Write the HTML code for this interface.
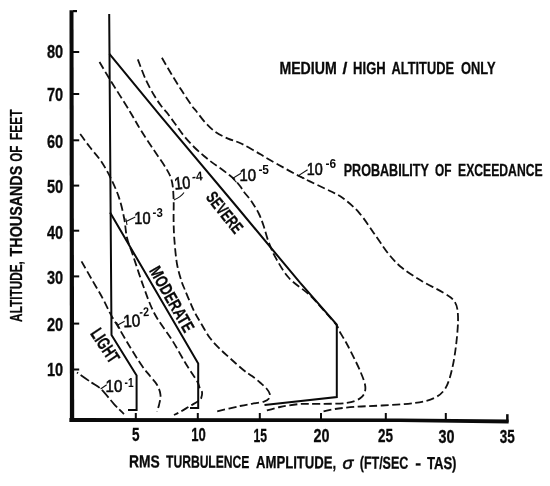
<!DOCTYPE html>
<html lang="en"><head><meta charset="utf-8"><title>Turbulence amplitude chart</title>
<style>html,body{margin:0;padding:0;background:#fff}svg{display:block}text{font-family:"Liberation Sans", "DejaVu Sans", sans-serif;fill:#0a0a0a}.b{font-weight:700;stroke:#0a0a0a;stroke-width:.3}.e{font-weight:700}.m{stroke:#0a0a0a;stroke-width:.6}.s{stroke:#0a0a0a;fill:none;stroke-width:2;stroke-linejoin:miter}.d{stroke:#111;fill:none;stroke-width:1.8}.l{stroke:#111;fill:none;stroke-width:1.1}</style></head><body>
<svg width="550" height="486" viewBox="0 0 550 486">
<rect width="550" height="486" fill="#fff"/>
<g fill="#0a0a0a">
<path d="M69.5 10.3H73.5L74.2 422H69.9Z"/>
<path d="M69.4 418.1L400 418.4L508.6 419.4V423.6L400 422.1L69.4 422Z"/>
<rect x="73" y="10" width="4" height="2.2"/>
<rect x="73" y="51.0" width="6.2" height="2"/>
<rect x="73" y="93.0" width="6.2" height="2"/>
<rect x="73" y="139.3" width="6.2" height="2"/>
<rect x="73" y="184.6" width="6.2" height="2"/>
<rect x="73" y="229.7" width="6.2" height="2"/>
<rect x="73" y="275.4" width="6.2" height="2"/>
<rect x="73" y="322.6" width="6.2" height="2"/>
<rect x="73" y="368.5" width="6.2" height="2"/>
<rect x="134.8" y="413" width="2" height="6"/>
<rect x="196.8" y="413" width="2" height="6"/>
<rect x="258.8" y="413" width="2" height="6"/>
<rect x="320.0" y="413" width="2" height="6"/>
<rect x="384.8" y="413" width="2" height="6"/>
<rect x="444.8" y="413" width="2" height="6"/>
<rect x="506.1" y="414.2" width="2.5" height="8"/>
</g>
<path class="d" stroke-dasharray="1.5 3 10 3 10 3 10 3 10 3 10 3 1.5 3" d="M77.0 372.5C79.3 374.1 86.9 379.4 90.9 382.2C94.9 384.9 97.2 385.4 101.0 389.0C104.8 392.6 110.0 399.6 113.8 403.8C117.6 408.0 122.3 412.3 124.0 414.0"/>
<path class="d" stroke-dasharray="8 3.5" d="M81.5 261.4C83.3 264.5 88.6 273.9 92.2 280.1C95.8 286.4 99.9 293.1 103.0 298.9C106.1 304.7 108.3 310.0 111.0 314.9C113.7 319.8 115.8 322.9 119.0 328.3C122.2 333.7 126.2 340.8 130.0 347.0C133.8 353.2 138.5 360.8 141.8 365.6C145.1 370.4 147.5 372.8 150.0 376.0C152.5 379.2 155.2 381.5 157.0 384.7C158.8 387.9 160.2 391.6 160.5 395.0C160.8 398.4 159.6 402.3 159.0 405.0C158.4 407.7 157.3 410.3 157.0 411.4"/>
<path class="d" stroke-dasharray="8 3.5" d="M80.2 134.0C81.8 136.1 86.2 142.5 89.6 146.8C92.9 151.2 96.8 155.0 100.3 160.1C103.8 165.2 107.3 171.2 110.4 177.5C113.5 183.8 116.7 190.7 119.0 197.6C121.3 204.5 123.0 212.3 124.3 219.0C125.6 225.7 125.5 231.6 127.0 237.7C128.4 243.8 130.3 247.3 133.0 255.4C135.7 263.4 139.7 276.2 143.3 286.0C146.9 295.8 149.9 305.0 154.7 314.0C159.5 323.0 166.8 331.7 172.0 340.0C177.2 348.3 181.8 357.2 186.0 364.0C190.2 370.8 194.7 377.1 197.0 381.0C199.3 384.9 198.8 385.7 199.6 387.5C200.4 389.3 201.7 390.5 202.0 392.0C202.3 393.5 202.0 395.1 201.6 396.5C201.2 397.9 201.4 398.7 199.5 400.3C197.6 401.9 193.2 404.1 190.0 406.0C186.8 407.9 182.7 410.5 180.0 412.0C177.3 413.5 175.0 414.5 174.0 415.0"/>
<path class="d" stroke-dasharray="8 3.5" d="M99.5 62.0C101.1 64.7 103.9 69.7 109.0 78.0C114.1 86.3 124.7 103.0 130.0 111.7C135.3 120.4 136.8 123.7 140.7 130.0C144.6 136.3 149.3 143.1 153.5 149.5C157.7 155.9 162.9 162.9 166.0 168.2C169.1 173.4 170.5 175.9 171.8 181.0C173.1 186.1 173.3 192.2 173.6 198.7C173.9 205.2 173.5 213.1 173.6 220.0C173.7 226.9 173.8 232.7 174.4 240.0C175.0 247.3 175.8 257.2 177.0 264.0C178.2 270.8 180.1 276.6 181.4 280.9C182.7 285.2 183.6 286.5 185.0 290.0C186.4 293.5 188.3 298.2 190.0 302.0C191.7 305.8 193.0 309.2 195.0 313.0C197.0 316.8 199.5 320.8 202.0 325.0C204.5 329.2 207.0 334.0 210.0 338.0C213.0 342.0 216.3 345.3 220.0 349.0C223.7 352.7 228.0 356.4 232.0 360.0C236.0 363.6 240.7 367.8 244.0 370.5C247.3 373.2 249.3 374.0 252.0 376.0C254.7 378.0 257.6 380.4 260.0 382.5C262.4 384.6 264.9 386.6 266.5 388.5C268.1 390.4 269.4 392.3 269.8 394.0C270.2 395.7 270.0 397.2 269.0 398.5C268.0 399.8 266.8 400.7 264.0 401.6C261.2 402.5 256.0 403.1 252.0 403.8C248.0 404.5 246.0 404.7 240.0 406.0C234.0 407.3 220.0 410.7 216.0 411.6"/>
<path class="d" stroke-dasharray="8 3.5" d="M137.8 59.3C139.1 62.5 142.6 72.6 145.4 78.8C148.2 85.0 151.9 91.6 154.7 96.3C157.5 101.0 159.8 104.0 162.0 107.0C164.2 110.0 165.7 111.0 168.0 114.0C170.3 117.0 173.3 121.3 176.0 125.0C178.7 128.7 181.0 132.3 184.0 136.0C187.0 139.7 190.7 143.7 194.0 147.0C197.3 150.3 201.0 153.4 204.0 156.0C207.0 158.6 209.3 160.4 212.0 162.4C214.7 164.4 217.3 166.1 220.0 168.0C222.7 169.9 225.7 172.2 228.0 174.0C230.3 175.8 232.0 177.0 234.0 179.0C236.0 181.0 238.3 183.8 240.0 186.0C241.7 188.2 242.5 190.0 244.0 192.0C245.5 194.0 247.4 195.9 249.0 198.0C250.6 200.1 251.8 201.8 253.5 204.5C255.2 207.2 257.3 210.4 259.0 214.0C260.7 217.6 262.0 221.1 263.6 225.8C265.2 230.5 266.6 236.8 268.7 242.3C270.8 247.8 272.9 252.9 276.3 258.9C279.7 264.8 283.5 272.0 289.0 278.0C294.5 284.0 303.4 289.2 309.4 294.8C315.4 300.4 320.5 306.8 325.0 311.8C329.5 316.8 334.2 322.1 336.5 325.0C338.8 327.9 337.4 327.4 338.5 329.5C339.6 331.6 341.5 334.7 343.2 337.6C344.9 340.5 345.6 341.3 348.5 347.0C351.4 352.7 357.7 365.0 360.5 371.8C363.3 378.6 365.4 383.6 365.4 388.0C365.4 392.4 363.8 395.5 360.5 398.0C357.2 400.5 352.6 402.0 345.8 403.0C339.0 404.0 327.2 403.7 319.6 403.9C312.0 404.1 306.6 403.5 300.0 404.0C293.4 404.5 285.8 405.8 280.0 407.0C274.2 408.2 267.5 410.3 265.0 411.0"/>
<path class="d" stroke-dasharray="8 3.5" d="M161.9 57.8C163.4 60.4 167.9 68.3 171.2 73.7C174.4 79.1 178.0 84.8 181.4 90.1C184.8 95.4 189.3 102.1 191.7 105.6C194.1 109.0 193.7 107.9 196.0 110.8C198.3 113.7 202.2 119.3 205.5 122.8C208.8 126.3 211.8 129.4 215.5 132.0C219.2 134.6 223.9 136.8 228.0 138.6C232.1 140.4 235.7 141.0 240.0 143.0C244.3 145.0 249.0 147.7 254.0 150.5C259.0 153.3 262.4 155.7 270.0 160.0C277.6 164.3 289.4 171.0 299.4 176.2C309.4 181.4 322.8 187.4 330.0 191.0C337.2 194.6 337.9 194.4 342.8 198.0C347.7 201.6 353.7 206.5 359.2 212.8C364.7 219.1 370.8 228.9 375.7 235.8C380.6 242.7 384.4 249.0 388.8 254.3C393.2 259.6 396.5 263.4 402.0 267.8C407.5 272.2 414.9 276.9 421.7 281.0C428.5 285.1 437.5 289.1 443.0 292.5C448.5 295.9 452.1 297.7 454.6 301.6C457.1 305.5 457.7 309.2 458.0 316.0C458.3 322.8 457.4 333.6 456.4 342.4C455.4 351.1 454.0 360.9 452.2 368.5C450.4 376.1 448.6 383.1 445.6 388.0C442.6 392.9 439.4 395.5 434.2 398.0C429.0 400.5 423.2 401.8 414.5 403.0C405.8 404.2 391.6 404.9 381.8 405.5C372.0 406.1 363.4 406.2 355.6 406.8C347.8 407.4 340.9 408.1 335.0 409.0C329.1 409.9 322.9 411.5 320.5 412.0"/>
<path class="s" d="M109.2 14L111.5 335L136.6 375.5V410H128"/>
<path class="s" d="M109.4 53.8L160 115.3L237 207L300 282.7L336.8 324.7V397L264.5 405"/>
<path class="s" d="M110.1 212.5L198.2 363.6V408H190"/>
<text x="47.0" y="58.0" font-size="18.0" class="b" textLength="16.2" lengthAdjust="spacingAndGlyphs">80</text>
<text x="47.0" y="100.5" font-size="18.0" class="b" textLength="16.2" lengthAdjust="spacingAndGlyphs">70</text>
<text x="47.0" y="147.6" font-size="18.0" class="b" textLength="16.2" lengthAdjust="spacingAndGlyphs">60</text>
<text x="47.0" y="193.1" font-size="18.0" class="b" textLength="16.2" lengthAdjust="spacingAndGlyphs">50</text>
<text x="47.0" y="238.7" font-size="18.0" class="b" textLength="16.2" lengthAdjust="spacingAndGlyphs">40</text>
<text x="47.0" y="283.8" font-size="18.0" class="b" textLength="16.2" lengthAdjust="spacingAndGlyphs">30</text>
<text x="47.0" y="330.7" font-size="18.0" class="b" textLength="16.2" lengthAdjust="spacingAndGlyphs">20</text>
<text x="47.0" y="376.0" font-size="18.0" class="b" textLength="16.2" lengthAdjust="spacingAndGlyphs">10</text>
<text x="132.0" y="441.0" font-size="18.0" class="b" textLength="7.5" lengthAdjust="spacingAndGlyphs">5</text>
<text x="191.3" y="441.3" font-size="18.0" class="b" textLength="14.5" lengthAdjust="spacingAndGlyphs">10</text>
<text x="253.5" y="441.7" font-size="18.0" class="b" textLength="13.5" lengthAdjust="spacingAndGlyphs">15</text>
<text x="313.5" y="442.0" font-size="18.0" class="b" textLength="16.0" lengthAdjust="spacingAndGlyphs">20</text>
<text x="378.0" y="442.4" font-size="18.0" class="b" textLength="15.0" lengthAdjust="spacingAndGlyphs">25</text>
<text x="438.5" y="442.7" font-size="18.0" class="b" textLength="16.0" lengthAdjust="spacingAndGlyphs">30</text>
<text x="499.8" y="443.1" font-size="18.0" class="b" textLength="15.0" lengthAdjust="spacingAndGlyphs">35</text>
<text x="279.4" y="74.0" font-size="17.4" class="b" textLength="57.3" lengthAdjust="spacingAndGlyphs">MEDIUM</text><text x="342.6" y="74.0" font-size="17.4" class="b">/</text><text x="353.1" y="74.0" font-size="17.4" class="b" textLength="32.6" lengthAdjust="spacingAndGlyphs">HIGH</text><text x="391.5" y="74.0" font-size="17.4" class="b" textLength="62.5" lengthAdjust="spacingAndGlyphs">ALTITUDE</text><text x="460.9" y="74.0" font-size="17.4" class="b" textLength="34.6" lengthAdjust="spacingAndGlyphs">ONLY</text>
<text x="343.7" y="175.8" font-size="17.4" class="b" textLength="85.2" lengthAdjust="spacingAndGlyphs">PROBABILITY</text><text x="435.1" y="175.8" font-size="17.4" class="b" textLength="16.5" lengthAdjust="spacingAndGlyphs">OF</text><text x="458.1" y="175.8" font-size="17.4" class="b" textLength="84.5" lengthAdjust="spacingAndGlyphs">EXCEEDANCE</text>
<g transform="rotate(0.32 130 467.3)">
<text x="129.1" y="467.3" font-size="17.4" class="b" textLength="30.6" lengthAdjust="spacingAndGlyphs">RMS</text><text x="166.1" y="467.3" font-size="17.4" class="b" textLength="83.2" lengthAdjust="spacingAndGlyphs">TURBULENCE</text><text x="256.1" y="467.3" font-size="17.4" class="b" textLength="80.0" lengthAdjust="spacingAndGlyphs">AMPLITUDE,</text><text x="359.8" y="467.3" font-size="17.4" class="b" textLength="48.4" lengthAdjust="spacingAndGlyphs">(FT/SEC</text><text x="415.2" y="467.3" font-size="17.4" class="b">-</text><text x="426.9" y="467.3" font-size="17.4" class="b" textLength="29.6" lengthAdjust="spacingAndGlyphs">TAS)</text>
<text x="342.6" y="467.6" font-size="17" font-style="italic" font-family='"Liberation Serif","DejaVu Serif",serif' class="m" textLength="10.8" lengthAdjust="spacingAndGlyphs">σ</text></g>
<g transform="translate(22.3 0) rotate(-90)"><text x="-321.9" y="0.0" font-size="17.4" class="b" textLength="60.8" lengthAdjust="spacingAndGlyphs">ALTITUDE,</text><text x="-256.4" y="0.0" font-size="17.4" class="b" textLength="90.6" lengthAdjust="spacingAndGlyphs">THOUSANDS</text><text x="-161.8" y="0.0" font-size="17.4" class="b" textLength="16.2" lengthAdjust="spacingAndGlyphs">OF</text><text x="-139.9" y="0.0" font-size="17.4" class="b" textLength="30.4" lengthAdjust="spacingAndGlyphs">FEET</text></g>
<g transform="translate(205.2 197.6) rotate(51.5)"><text x="0.0" y="0.0" font-size="17.4" class="b" textLength="47.5" lengthAdjust="spacingAndGlyphs">SEVERE</text></g>
<g transform="translate(148.8 270.6) rotate(60.4)"><text x="0.0" y="0.0" font-size="17.4" class="b" textLength="72.5" lengthAdjust="spacingAndGlyphs">MODERATE</text></g>
<g transform="translate(89.8 333.6) rotate(56.5)"><text x="0.0" y="0.0" font-size="18.2" class="b" textLength="37.0" lengthAdjust="spacingAndGlyphs">LIGHT</text></g>
<g><text x="306.7" y="175.4" font-size="17.4" class="m" textLength="16.0" lengthAdjust="spacingAndGlyphs">10</text><text x="325.6" y="167.6" font-size="12.8" class="e" textLength="10.6" lengthAdjust="spacingAndGlyphs">-6</text></g>
<g><text x="239.5" y="180.8" font-size="17.4" class="m" textLength="16.6" lengthAdjust="spacingAndGlyphs">10</text><text x="258.4" y="173.6" font-size="12.8" class="e" textLength="10.6" lengthAdjust="spacingAndGlyphs">-5</text></g>
<g transform="rotate(-5 176.0 189.5)"><text x="174.7" y="189.5" font-size="17.4" class="m" textLength="16.2" lengthAdjust="spacingAndGlyphs">10</text><text x="192.9" y="182.5" font-size="12.8" class="e" textLength="10.7" lengthAdjust="spacingAndGlyphs">-4</text></g>
<g><text x="134.3" y="223.6" font-size="17.4" class="m" textLength="16.2" lengthAdjust="spacingAndGlyphs">10</text><text x="152.6" y="216.5" font-size="12.8" class="e" textLength="10.2" lengthAdjust="spacingAndGlyphs">-3</text></g>
<g transform="rotate(-2.5 124.8 327.2)"><text x="123.5" y="327.2" font-size="17.4" class="m" textLength="17.0" lengthAdjust="spacingAndGlyphs">10</text><text x="140.0" y="317.0" font-size="12.8" class="e" textLength="9.6" lengthAdjust="spacingAndGlyphs">-2</text></g>
<g><text x="105.6" y="391.9" font-size="17.4" class="m" textLength="16.7" lengthAdjust="spacingAndGlyphs">10</text><text x="124.6" y="386.6" font-size="12.8" class="e" textLength="9.0" lengthAdjust="spacingAndGlyphs">-1</text></g>
<path class="l" d="M307.6 169.8L298.5 175.6L304.5 178.4"/>
<path class="l" d="M241 173.3L232.8 178.3L236.5 182.3"/>
<path class="l" d="M184 192.5Q181 197 173.8 200"/>
<path class="l" d="M135.3 217L126.6 221.3M125.8 218.5L127 225"/>
<path class="l" d="M124.6 321.3L117.8 325M116.3 322L120 328.7"/>
<path class="l" d="M106.7 384.7L100.6 389"/>
</svg></body></html>
